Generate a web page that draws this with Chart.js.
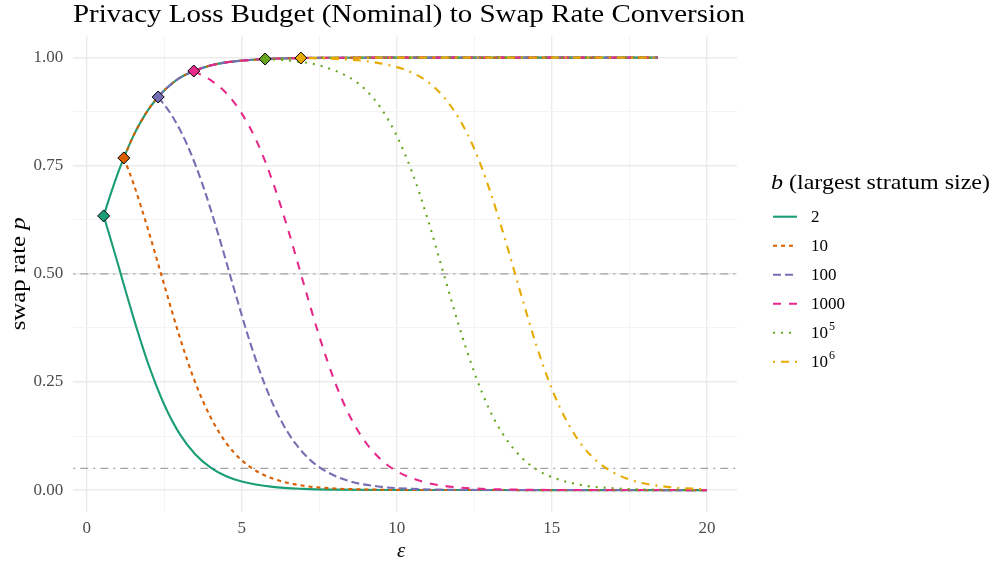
<!DOCTYPE html>
<html>
<head>
<meta charset="utf-8">
<script src="https://cdn.jsdelivr.net/npm/chart.js@4.4.1/dist/chart.umd.min.js"></script>
<style>
  html, body { margin: 0; padding: 0; background: #fff; }
  #wrap { width: 996px; height: 567px; position: relative; }
</style>
</head>
<body>
<div id="wrap"><canvas id="c" width="996" height="567"></canvas></div>
<script>
// ---- data ----
const seriesLabels = ['2', '10', '100', '1000', '10^5', '10^6'];
const seriesColors = ['#1B9E77', '#D95F02', '#7570B3', '#E7298A', '#66A61E', '#E6AB02'];

// common rising envelope (upper branch)
const envEps = [0.549, 0.75, 1.0, 1.199, 1.5, 1.75, 2.0, 2.307, 2.5, 2.75, 3.0, 3.455, 4.0, 4.5, 5.0, 5.756, 6.25, 6.908, 8.0, 10.0, 12.0, 15.0, 18.42];
const envP   = [0.634, 0.679, 0.731, 0.768, 0.818, 0.852, 0.881, 0.909, 0.924, 0.940, 0.953, 0.969, 0.982, 0.989, 0.993, 0.9968, 0.998, 0.999, 0.9997, 1.0, 1.0, 1.0, 1.0];

// diamonds where each curve branches
const diamondEps = [0.549, 1.199, 2.307, 3.455, 5.756, 6.908];
const diamondP   = [0.634, 0.768, 0.909, 0.969, 0.9968, 0.999];

// falling branches
const lowEps_2    = [0.549, 0.75, 1.0, 1.25, 1.5, 1.75, 2.0, 2.5, 3.0, 3.5, 4.0, 4.5, 5.0, 6.0, 7.0, 8.0, 10.0, 12.0, 15.0, 20.0];
const lowP_2      = [0.634, 0.586, 0.525, 0.462, 0.401, 0.343, 0.289, 0.198, 0.130, 0.083, 0.052, 0.032, 0.020, 0.0074, 0.0027, 0.001, 0.00014, 0.00002, 0, 0];
const lowEps_10   = [1.199, 1.5, 2.0, 2.5, 3.0, 3.5, 4.0, 4.5, 5.0, 5.5, 6.0, 7.0, 8.0, 9.0, 10.0, 12.0, 15.0, 20.0];
const lowP_10     = [0.768, 0.711, 0.598, 0.475, 0.354, 0.249, 0.168, 0.109, 0.069, 0.043, 0.0265, 0.0099, 0.0037, 0.0014, 0.0005, 0.00007, 0, 0];
const lowEps_100  = [2.307, 2.75, 3.25, 3.75, 4.25, 4.75, 5.25, 5.75, 6.25, 6.75, 7.25, 7.75, 8.5, 9.5, 10.5, 12.0, 14.0, 20.0];
const lowP_100    = [0.909, 0.866, 0.797, 0.704, 0.590, 0.466, 0.346, 0.243, 0.163, 0.106, 0.067, 0.042, 0.020, 0.0075, 0.0028, 0.0006, 0.00008, 0];
const lowEps_1000 = [3.455, 4.0, 4.5, 5.0, 5.5, 6.0, 6.5, 7.0, 7.5, 8.0, 8.5, 9.0, 9.5, 10.0, 11.0, 12.0, 13.0, 14.5, 16.0, 20.0];
const lowP_1000   = [0.969, 0.948, 0.918, 0.871, 0.804, 0.713, 0.601, 0.477, 0.356, 0.251, 0.169, 0.110, 0.070, 0.0435, 0.0165, 0.0061, 0.0023, 0.0005, 0.0001, 0];
const lowEps_1e5  = [5.756, 6.5, 7.5, 8.5, 9.0, 9.5, 10.0, 10.5, 11.0, 11.5, 12.0, 12.5, 13.0, 13.5, 14.0, 14.5, 15.0, 16.0, 17.0, 18.0, 19.0, 20.0];
const lowP_1e5    = [0.9968, 0.9934, 0.982, 0.953, 0.925, 0.882, 0.819, 0.734, 0.626, 0.503, 0.381, 0.272, 0.184, 0.121, 0.077, 0.048, 0.030, 0.011, 0.0041, 0.0015, 0.0006, 0.0002];
const lowEps_1e6  = [6.908, 8.0, 9.0, 10.0, 10.5, 11.0, 11.5, 12.0, 12.5, 13.0, 13.5, 14.0, 14.5, 15.0, 15.5, 16.0, 16.5, 17.0, 17.5, 18.0, 19.0, 20.0];
const lowP_1e6    = [0.999, 0.997, 0.992, 0.978, 0.965, 0.944, 0.910, 0.860, 0.789, 0.693, 0.578, 0.454, 0.335, 0.234, 0.157, 0.101, 0.064, 0.040, 0.0245, 0.015, 0.0056, 0.0021];

const lowerEps = [lowEps_2, lowEps_10, lowEps_100, lowEps_1000, lowEps_1e5, lowEps_1e6];
const lowerP   = [lowP_2, lowP_10, lowP_100, lowP_1000, lowP_1e5, lowP_1e6];

const refLevels = [0.5, 0.05];
const xMajorTicks = [0, 5, 10, 15, 20];
const xMinorTicks = [2.5, 7.5, 12.5, 17.5];
const yMajorTicks = [0, 0.25, 0.5, 0.75, 1.0];
const yMinorTicks = [0.125, 0.375, 0.625, 0.875];
const xRange = [-0.43, 20.97];
const yRange = [-0.05, 1.05];

// ---- styles ----
const dashes = [[], [4, 4], [8, 4], [8, 8], [2, 6], [2, 6, 8, 6]];
const SERIF = '"Liberation Serif", "DejaVu Serif", serif';

const zip = (xs, ys) => xs.map((x, i) => ({ x: x, y: ys[i] }));

const datasets = [];
seriesLabels.forEach((lab, i) => {
  const upX = [], upY = [];
  envEps.forEach((e, k) => { if (e >= diamondEps[i] - 1e-9) { upX.push(e); upY.push(envP[k]); } });
  const common = {
    borderColor: seriesColors[i], borderWidth: 2.1, borderDash: dashes[i],
    pointRadius: 0, fill: false, cubicInterpolationMode: 'monotone', order: -i
  };
  datasets.push(Object.assign({ label: lab + ' upper', data: zip(upX, upY) }, common));
  datasets.push(Object.assign({ label: lab + ' lower', data: zip(lowerEps[i], lowerP[i]) }, common));
});
datasets.push({
  label: 'branch points', type: 'scatter',
  data: zip(diamondEps, diamondP),
  pointStyle: 'rectRot', pointRadius: 6,
  pointBackgroundColor: seriesColors, pointBorderColor: '#000', pointBorderWidth: 1,
  showLine: false, order: -100
});

const isMajor = (v, list) => list.some(t => Math.abs(t - v) < 1e-9);

// draw a run of [text, font] parts starting at x, stretched to targetWidth
function drawRuns(ctx, runs, x, y, targetWidth) {
  let total = 0;
  runs.forEach(r => { ctx.font = r[1]; total += ctx.measureText(r[0]).width; });
  const sx = targetWidth ? targetWidth / total : 1;
  ctx.save();
  ctx.translate(x, y);
  ctx.scale(sx, 1);
  let cx = 0;
  ctx.textAlign = 'left';
  runs.forEach(r => { ctx.font = r[1]; ctx.fillText(r[0], cx, 0); cx += ctx.measureText(r[0]).width; });
  ctx.restore();
}

const decorPlugin = {
  id: 'decor',
  beforeDatasetsDraw(chart) {
    const ctx = chart.ctx, a = chart.chartArea, y = chart.scales.y;
    ctx.save();
    ctx.strokeStyle = '#A3A3A3';
    ctx.lineWidth = 1.3;
    ctx.setLineDash([2, 5, 8, 5]);
    refLevels.forEach(v => {
      const py = y.getPixelForValue(v);
      ctx.beginPath(); ctx.moveTo(a.left, py); ctx.lineTo(a.right, py); ctx.stroke();
    });
    ctx.restore();
  },
  afterDraw(chart) {
    const ctx = chart.ctx, a = chart.chartArea;
    ctx.save();
    ctx.fillStyle = '#000';
    ctx.textBaseline = 'alphabetic';
    // title
    drawRuns(ctx, [['Privacy Loss Budget (Nominal) to Swap Rate Conversion', '26px ' + SERIF]], 73, 22, 672);
    // x axis title
    drawRuns(ctx, [['\u03B5', 'italic 21px ' + SERIF]], 397, 557, 0);
    // y axis title
    ctx.save();
    ctx.translate(25, (a.top + a.bottom) / 2);
    ctx.rotate(-Math.PI / 2);
    drawRuns(ctx, [['swap rate ', '21px ' + SERIF], ['p', 'italic 21px ' + SERIF]], -56.5, 0, 113);
    ctx.restore();
    // legend
    drawRuns(ctx, [['b', 'italic 21px ' + SERIF], [' (largest stratum size)', '21px ' + SERIF]], 771, 189, 219);
    seriesLabels.forEach((lab, i) => {
      const cy = 216.7 + i * 29;
      ctx.save();
      ctx.strokeStyle = seriesColors[i];
      ctx.lineWidth = 2.1;
      ctx.setLineDash(dashes[i]);
      ctx.beginPath(); ctx.moveTo(773, cy); ctx.lineTo(797, cy); ctx.stroke();
      ctx.restore();
      ctx.fillStyle = '#000';
      ctx.textBaseline = 'middle';
      const parts = lab.split('^');
      ctx.font = '17px ' + SERIF;
      ctx.fillText(parts[0], 811, cy + 1);
      if (parts[1]) {
        const w = ctx.measureText(parts[0]).width;
        ctx.font = '12px ' + SERIF;
        ctx.fillText(parts[1], 811 + w + 1, cy - 6);
      }
    });
    ctx.restore();
  }
};

new Chart(document.getElementById('c'), {
  type: 'line',
  data: { datasets: datasets },
  options: {
    responsive: false,
    animation: false,
    devicePixelRatio: 1,
    layout: { padding: { left: 0, right: 259, top: 36, bottom: 0 } },
    plugins: { legend: { display: false }, title: { display: false }, tooltip: { enabled: false } },
    scales: {
      x: {
        type: 'linear', min: xRange[0], max: xRange[1],
        afterFit: s => { s.height = 55.3; },
        afterBuildTicks: s => { s.ticks = xMajorTicks.concat(xMinorTicks).sort((p, q) => p - q).map(v => ({ value: v })); },
        border: { display: false },
        grid: {
          drawTicks: false,
          color: c => isMajor(c.tick.value, xMajorTicks) ? '#EBEBEB' : '#F3F3F3',
          lineWidth: c => isMajor(c.tick.value, xMajorTicks) ? 1.4 : 1.0
        },
        ticks: {
          padding: 7, color: '#4D4D4D', font: { family: SERIF, size: 17 }, maxRotation: 0, autoSkip: false,
          callback: v => isMajor(v, xMajorTicks) ? String(v) : ''
        }
      },
      y: {
        type: 'linear', min: yRange[0], max: yRange[1],
        afterFit: s => { s.width = 73.3; },
        afterBuildTicks: s => { s.ticks = yMajorTicks.concat(yMinorTicks).sort((p, q) => p - q).map(v => ({ value: v })); },
        border: { display: false },
        grid: {
          drawTicks: false,
          color: c => isMajor(c.tick.value, yMajorTicks) ? '#EBEBEB' : '#F3F3F3',
          lineWidth: c => isMajor(c.tick.value, yMajorTicks) ? 1.4 : 1.0
        },
        ticks: {
          padding: 10, color: '#4D4D4D', font: { family: SERIF, size: 17 }, autoSkip: false,
          callback: v => isMajor(v, yMajorTicks) ? v.toFixed(2) : ''
        }
      }
    }
  },
  plugins: [decorPlugin]
});
</script>
</body>
</html>
